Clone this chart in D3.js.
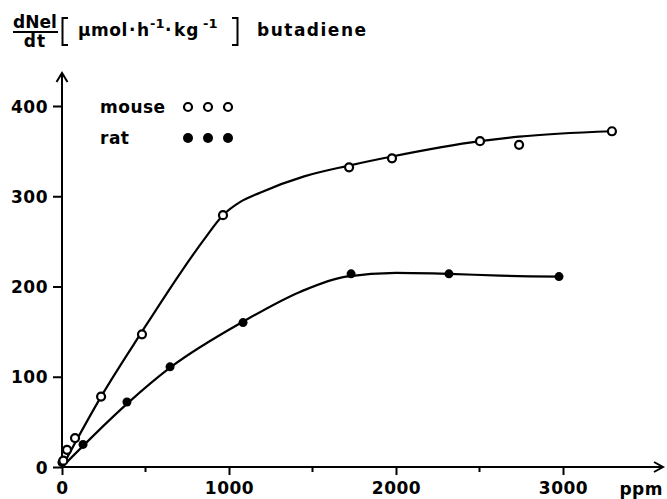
<!DOCTYPE html>
<html>
<head>
<meta charset="utf-8">
<script src="https://cdn.jsdelivr.net/npm/d3@7"></script>
<style>
  body { margin: 0; background: #fff; }
  svg text { font-family: "DejaVu Sans", sans-serif; font-weight: bold; fill: #000; }
</style>
</head>
<body>
<div id="chart"></div>
<script>
// measured points (ppm, umol/h/kg)
var mousePpm = [8, 30, 78, 234, 479, 964, 1719, 1976, 2503, 2737, 3293];
var mouseRate = [7, 19, 32, 78, 147, 279, 332, 342, 361, 357, 372];
var ratPpm = [0, 126, 389, 647, 1084, 1731, 2317, 2976];
var ratRate = [5, 25, 72, 111, 160, 214, 214, 211];

// hand drawn fitted curves
var mouseFitPpm = [0, 234, 479, 720, 850, 964, 1070, 1186, 1450, 1719, 1976, 2503, 2737, 3293];
var mouseFitRate = [0, 78, 150, 218, 252, 279, 294, 304, 322, 334, 344, 361, 366, 372];
var ratFitPpm = [0, 389, 647, 1084, 1425, 1700, 2000, 2317, 2623, 2976];
var ratFitRate = [0, 70, 110, 161, 194, 211, 215, 214, 212, 211];

var yTicks = [0, 100, 200, 300, 400];
var xTicks = [0, 1000, 2000, 3000];
var xMinor = [500, 1500, 2500];

var width = 667, height = 499;

var svg = d3.select("#chart").append("svg")
    .attr("width", width)
    .attr("height", height);

var x = d3.scaleLinear().domain([0, 3000]).range([62, 563]);
var y = d3.scaleLinear().domain([0, 400]).range([467, 106]);

// axes lines with arrows
svg.append("line")
    .attr("x1", x(0)).attr("x2", 662)
    .attr("y1", y(0)).attr("y2", y(0))
    .attr("stroke", "#000").attr("stroke-width", 2);
svg.append("path")
    .attr("d", "M654,462 L663,467 L654,472")
    .attr("fill", "none").attr("stroke", "#000").attr("stroke-width", 2);
svg.append("line")
    .attr("x1", x(0)).attr("x2", x(0))
    .attr("y1", y(0) + 1).attr("y2", 74)
    .attr("stroke", "#000").attr("stroke-width", 2);
svg.append("path")
    .attr("d", "M56.5,82 L62,73 L67.5,82")
    .attr("fill", "none").attr("stroke", "#000").attr("stroke-width", 2);

// y axis
var yAxis = svg.append("g")
    .attr("transform", "translate(" + x(0) + ",0)")
    .call(d3.axisLeft(y).tickValues(yTicks).tickSize(9).tickPadding(5));
yAxis.select(".domain").remove();
yAxis.selectAll("line").attr("stroke-width", 2);
yAxis.selectAll("text")
    .attr("font-size", 17)
    .attr("letter-spacing", 0.5)
    .attr("font-family", "DejaVu Sans")
    .attr("font-weight", "bold")
    .attr("dy", "0.36em");

// x axis
var xAxis = svg.append("g")
    .attr("transform", "translate(0," + y(0) + ")")
    .call(d3.axisBottom(x).tickValues(xTicks).tickFormat(d3.format("d")).tickSize(8).tickPadding(7));
xAxis.select(".domain").remove();
xAxis.selectAll("line").attr("stroke-width", 2);
xAxis.selectAll("text")
    .attr("font-size", 17)
    .attr("letter-spacing", 0.5)
    .attr("font-family", "DejaVu Sans")
    .attr("font-weight", "bold");

svg.append("g").selectAll("line")
    .data(xMinor)
    .join("line")
    .attr("x1", function (d) { return x(d); })
    .attr("x2", function (d) { return x(d); })
    .attr("y1", y(0)).attr("y2", y(0) + 5)
    .attr("stroke", "#000").attr("stroke-width", 2);

svg.append("text")
    .attr("x", 663).attr("y", 495)
    .attr("text-anchor", "end")
    .attr("font-size", 17)
    .attr("letter-spacing", 0.5)
    .text("ppm");

// fitted curves
var line = d3.line()
    .x(function (d) { return x(d[0]); })
    .y(function (d) { return y(d[1]); })
    .curve(d3.curveMonotoneX);

svg.append("path")
    .attr("d", line(d3.zip(mouseFitPpm, mouseFitRate)))
    .attr("fill", "none").attr("stroke", "#000").attr("stroke-width", 2.2);
svg.append("path")
    .attr("d", line(d3.zip(ratFitPpm, ratFitRate)))
    .attr("fill", "none").attr("stroke", "#000").attr("stroke-width", 2.2);

// points
svg.append("g").selectAll("circle")
    .data(d3.zip(ratPpm, ratRate))
    .join("circle")
    .attr("cx", function (d) { return x(d[0]); })
    .attr("cy", function (d) { return y(d[1]); })
    .attr("r", 4.5)
    .attr("fill", "#000");
svg.append("g").selectAll("circle")
    .data(d3.zip(mousePpm, mouseRate))
    .join("circle")
    .attr("cx", function (d) { return x(d[0]); })
    .attr("cy", function (d) { return y(d[1]); })
    .attr("r", 4)
    .attr("fill", "#fff")
    .attr("stroke", "#000")
    .attr("stroke-width", 2.2);

// legend
svg.append("text").attr("x", 100).attr("y", 113)
    .attr("font-size", 17).attr("letter-spacing", 0.5).text("mouse");
svg.append("text").attr("x", 100).attr("y", 144)
    .attr("font-size", 17).attr("letter-spacing", 0.5).text("rat");
[188, 208, 228].forEach(function (cx) {
    svg.append("circle").attr("cx", cx).attr("cy", 107).attr("r", 4)
        .attr("fill", "#fff").attr("stroke", "#000").attr("stroke-width", 2.2);
    svg.append("circle").attr("cx", cx).attr("cy", 138).attr("r", 5)
        .attr("fill", "#000");
});

// title: dNel/dt [umol h-1 kg-1] butadiene
var t = svg.append("g");
t.append("text").attr("x", 13).attr("y", 28).attr("font-size", 17).text("dNel");
t.append("line").attr("x1", 13).attr("x2", 58).attr("y1", 32).attr("y2", 32)
    .attr("stroke", "#000").attr("stroke-width", 2);
t.append("text").attr("x", 35).attr("y", 47).attr("text-anchor", "middle")
    .attr("font-size", 17).attr("letter-spacing", 1).text("dt");
t.append("path").attr("d", "M68,18 H62.5 V45 H68")
    .attr("fill", "none").attr("stroke", "#000").attr("stroke-width", 2);
t.append("path").attr("d", "M232,18 H237.5 V45 H232")
    .attr("fill", "none").attr("stroke", "#000").attr("stroke-width", 2);
t.append("text").attr("x", 78).attr("y", 36).attr("font-size", 17)
    .attr("letter-spacing", 0.5).text("µmol");
t.append("text").attr("x", 129).attr("y", 36).attr("font-size", 17).text("·");
t.append("text").attr("x", 137).attr("y", 36).attr("font-size", 17).text("h");
t.append("text").attr("x", 150).attr("y", 28).attr("font-size", 13).text("-1");
t.append("text").attr("x", 165).attr("y", 36).attr("font-size", 17).text("·");
t.append("text").attr("x", 174).attr("y", 36).attr("font-size", 17)
    .attr("letter-spacing", 1).text("kg");
t.append("text").attr("x", 203).attr("y", 28).attr("font-size", 13).text("-1");
t.append("text").attr("x", 257).attr("y", 36).attr("font-size", 17)
    .attr("letter-spacing", 1.5).text("butadiene");
</script>
</body>
</html>
